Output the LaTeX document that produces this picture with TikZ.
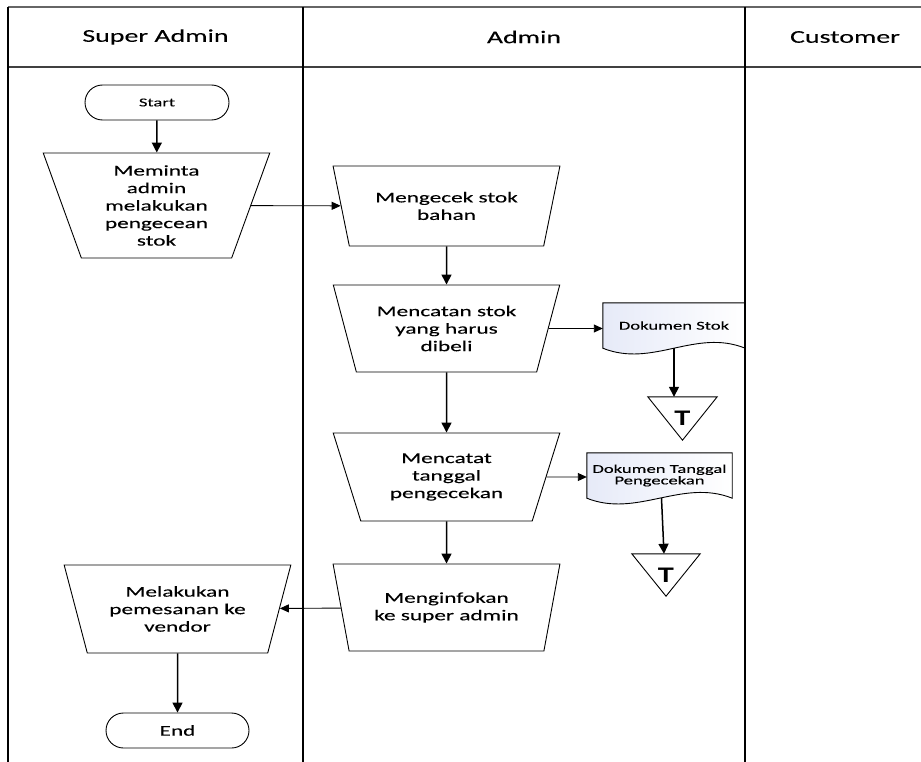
\documentclass[tikz,border=0pt]{standalone}
\usepackage{fontspec}
\setmainfont{Carlito}[FakeStretch=1.55,FakeBold=0.12]
\newfontfamily\markfont{Liberation Sans}[FakeStretch=1.25]
\usetikzlibrary{shapes.geometric,shapes.misc,arrows.meta,calc,backgrounds}

\begin{document}
\begin{tikzpicture}[x=1pt,y=-1pt,
  lane/.style={line width=1.6pt},
  terminal/.style={rounded rectangle, draw, line width=0.9pt,
    minimum width=144pt, minimum height=35pt, inner sep=0pt},
  proc/.style={trapezium, trapezium stretches=true, shape border rotate=180,
    trapezium angle=#1, draw, line width=0.9pt, minimum width=227pt,
    inner sep=0pt, align=center, font=\fontsize{15}{17.5}\selectfont},
  docbox/.style={rectangle, inner sep=0pt, minimum height=45pt, align=center,
    font=\fontsize{12}{11.5}\selectfont},
  docshape/.style={draw, line width=0.9pt,
    left color={rgb,255:red,230;green,234;blue,248}, right color=white},
  tribox/.style={rectangle, inner sep=0pt, minimum width=69pt, minimum height=43pt,
    font=\markfont\bfseries\fontsize{21}{21}\selectfont},
  flow/.style={-{Triangle[length=10pt,width=10pt]}, line width=1.5pt},
  link/.style={-{Triangle[length=9pt,width=8pt]}, line width=0.9pt}
]
\useasboundingbox (0,0) rectangle (921,762);

% swimlane frame
\draw[line width=1.1pt, black!60] (8,7) -- (921,7);
\draw[line width=1.2pt, black!75] (8,67) -- (921,67);
\draw[lane] (8,7) -- (8,762);
\draw[lane] (303,7) -- (303,762);
\draw[lane] (745,7) -- (745,762);

\node[font=\fontsize{18}{20}\selectfont] (h1) at (155.5,37) {Super Admin};
\node[font=\fontsize{18}{20}\selectfont] (h2) at (524,37) {Admin};
\node[font=\fontsize{18}{20}\selectfont] (h3) at (845,37) {Customer};

% Super Admin lane
\node[terminal, font=\fontsize{12}{14}\selectfont] (start) at (157,102.5) {Start};
\node[proc=72, minimum height=105pt] (t1) at (156.5,205.5)
  {Meminta\\admin\\melakukan\\pengecean\\stok};
\node[proc=69, minimum height=88pt] (t6) at (177.5,609)
  {Melakukan\\pemesanan ke\\vendor};
\node[terminal, minimum width=143pt, font=\fontsize{15}{17}\selectfont] (end) at (177.5,730.5) {End};

% Admin lane
\node[proc=67, minimum height=80pt] (t2) at (446.5,206) {Mengecek stok\\bahan};
\node[proc=68.6, minimum height=87pt] (t3) at (446.5,328.5) {Mencatan stok\\yang harus\\dibeli};
\node[proc=68.9, minimum height=88pt] (t4) at (446.5,477) {Mencatat\\tanggal\\pengecekan};
\node[proc=68.6, minimum height=87pt] (t5) at (446.5,607.5) {Menginfokan\\ke super admin};

% documents and off-page markers
\node[docbox, minimum width=142pt] (d1) at (674,325.5) {Dokumen Stok};
\node[docbox, minimum width=145pt] (d2) at (659.5,475.5) {Dokumen Tanggal\\Pengecekan};
\node[tribox] (m1) at (682.5,418.5) {T};
\node[tribox, minimum width=68pt, minimum height=42pt] (m2) at (666,575) {T};

\begin{scope}[on background layer]
  \draw[docshape] (d1.south west) -- (d1.north west) -- (d1.north east) -- (d1.south east)
    .. controls +(-50,-20) and +(50,20) .. (d1.south west) -- cycle;
  \draw[docshape] (d2.south west) -- (d2.north west) -- (d2.north east) -- (d2.south east)
    .. controls +(-50,-20) and +(50,20) .. (d2.south west) -- cycle;
\end{scope}
\draw[line width=0.9pt] (m1.north west) -- (m1.north east) -- (m1.south) -- cycle;
\draw[line width=0.9pt] (m2.north west) -- (m2.north east) -- (m2.south) -- cycle;

% connectors
\draw[flow] (start) -- (t1);
\draw[link] (t1) -- (t2);
\draw[flow] (t2) -- (t3);
\draw[link] (t3) -- (t3 -| d1.west);
\draw[flow] (d1.south) -- (d1.south |- m1.north);
\draw[flow] (t3) -- (t4);
\draw[link] (t4) -- (t4 -| d2.west);
\draw[flow] ([xshift=2pt]d2.south) -- ([xshift=-2pt]m2.north);
\draw[flow] (t4) -- (t5);
\draw[link] (t5) -- (t6);
\draw[flow] (t6) -- (end);
\end{tikzpicture}
\end{document}
